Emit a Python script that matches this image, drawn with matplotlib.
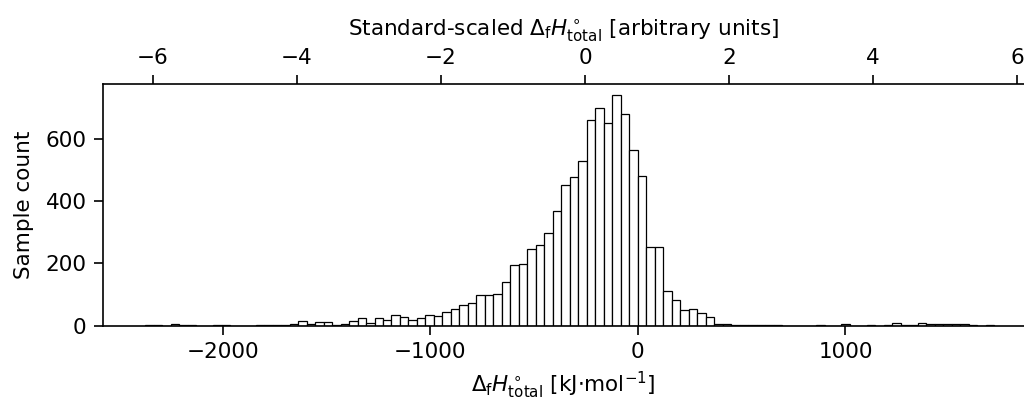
import numpy as np
import matplotlib
matplotlib.use("Agg")
import matplotlib.pyplot as plt

# Histogram data (counts per bin)
bin_start = -2373.0
bin_width = 40.9
counts = [
    2, 1, 0, 6, 1, 1, 0, 0, 2, 2,
    0, 0, 0, 1, 2, 2, 3, 6, 14, 4,
    11, 13, 3, 6, 14, 26, 9, 24, 19, 35,
    27, 19, 24, 33, 32, 45, 53, 65, 73, 99,
    99, 103, 142, 194, 198, 245, 258, 297, 368, 453,
    477, 528, 662, 700, 651, 743, 681, 566, 481, 253,
    253, 111, 84, 51, 54, 40, 29, 6, 4, 3,
    3, 1, 1, 3, 1, 0, 0, 0, 0, 1,
    0, 0, 7, 0, 0, 3, 0, 2, 10, 3,
    3, 10, 4, 5, 4, 7, 5, 1, 0, 1,
]
scale_mean = -255.0
scale_std = 347.0
bottom_ticks = [-2000, -1000, 0, 1000]
top_ticks = [-6, -4, -2, 0, 2, 4, 6]

edges = bin_start + bin_width * np.arange(len(counts) + 1)
centers = 0.5 * (edges[:-1] + edges[1:])

fig = plt.figure(figsize=(10.24, 4.0), dpi=100)
ax = fig.add_axes([0.1003, 0.1858, 0.8997, 0.6035])

ax.hist(centers, bins=edges, weights=counts, color="white",
        edgecolor="black", linewidth=0.9)

ax.set_xlim(-2578, 1860)
ax.set_ylim(0, 776)
ax.set_xticks(bottom_ticks)
ax.set_yticks([0, 200, 400, 600])

fs = 15.5
ax.tick_params(axis="both", labelsize=fs, length=6.7, width=1.2, pad=5)
for s in ["left", "bottom"]:
    ax.spines[s].set_linewidth(1.2)
ax.spines["right"].set_visible(False)
ax.spines["top"].set_visible(False)

ax.set_ylabel("Sample count", fontsize=fs, labelpad=8)
ax.set_xlabel(r"$\Delta_\mathrm{f}H^\circ_\mathrm{total}$ [kJ$\cdot$mol$^{-1}$]",
              fontsize=fs, labelpad=5.5)

def fwd(x):
    return (np.asarray(x) - scale_mean) / scale_std

def inv(z):
    return np.asarray(z) * scale_std + scale_mean

sec = ax.secondary_xaxis("top", functions=(fwd, inv))
sec.set_xticks(top_ticks)
sec.tick_params(labelsize=fs, length=6.7, width=1.2, pad=5)
sec.spines["top"].set_linewidth(1.2)
sec.set_xlabel(r"Standard-scaled $\Delta_\mathrm{f}H^\circ_\mathrm{total}$ [arbitrary units]",
               fontsize=fs, labelpad=8.5)

fig.savefig("out.png", dpi=100)
